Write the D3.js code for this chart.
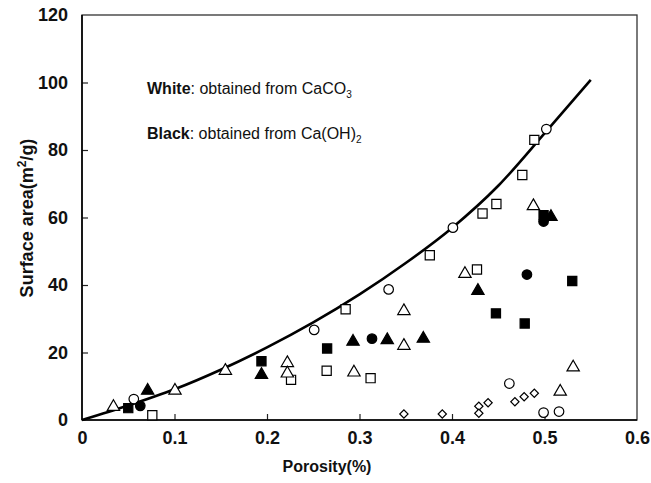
<!DOCTYPE html>
<html>
<head>
<meta charset="utf-8">
<script src="https://cdn.jsdelivr.net/npm/d3@7"></script>
<style>
  html, body { margin: 0; padding: 0; background: #fff; }
  svg { display: block; }
  text { font-family: Arial, "Liberation Sans", Helvetica, sans-serif; }
</style>
</head>
<body>
<svg id="chart" width="651" height="483"></svg>
<script>
// Axis tick labels
const xTicks = [0, 0.1, 0.2, 0.3, 0.4, 0.5, 0.6];
const yTicks = [0, 20, 40, 60, 80, 100, 120];

// White markers: samples obtained from CaCO3  [porosity, surface area]
const openCircle = [
  [0.056, 6.2], [0.251, 26.7], [0.3315, 38.7], [0.401, 57.0], [0.502, 86.2],
  [0.462, 10.8], [0.499, 2.2], [0.5157, 2.5]
];
const openSquare = [
  [0.076, 1.4], [0.226, 11.9], [0.2645, 14.6], [0.285, 32.8], [0.312, 12.4],
  [0.376, 48.8], [0.427, 44.6], [0.433, 61.2], [0.448, 64.0], [0.476, 72.6],
  [0.489, 83.0]
];
const openTriangle = [
  [0.034, 3.9], [0.1005, 8.7], [0.155, 14.6], [0.222, 16.9], [0.222, 13.8],
  [0.294, 14.1], [0.348, 32.3], [0.348, 22.0], [0.414, 43.3], [0.488, 63.4],
  [0.517, 8.4], [0.531, 15.6]
];
const openDiamond = [
  [0.348, 1.8], [0.3895, 1.8], [0.429, 4.1], [0.429, 2.0], [0.439, 5.1],
  [0.468, 5.4], [0.478, 6.9], [0.489, 7.9]
];

// Black markers: samples obtained from Ca(OH)2
const filledSquare = [
  [0.050, 3.5], [0.194, 17.4], [0.265, 21.2], [0.4475, 31.6], [0.4786, 28.6],
  [0.499, 60.7], [0.530, 41.2]
];
const filledCircle = [
  [0.063, 4.2], [0.3135, 24.1], [0.481, 43.1], [0.499, 58.8]
];
const filledTriangle = [
  [0.071, 8.7], [0.194, 13.4], [0.293, 23.2], [0.330, 23.7], [0.369, 24.1],
  [0.428, 38.3], [0.507, 60.2]
];

// Fitted curve
const curvePorosity = [0, 0.05, 0.10, 0.15, 0.20, 0.25, 0.30, 0.35, 0.40, 0.45, 0.50, 0.55];
const curveArea     = [0, 4.3, 9.1, 14.9, 21.5, 28.9, 37.2, 46.5, 56.9, 69.4, 84.9, 100.8];

const svg = d3.select("#chart");
const W = 651, H = 483;
const margin = { left: 82, top: 15, right: 14, bottom: 63 };
const iw = W - margin.left - margin.right;
const ih = H - margin.top - margin.bottom;

const x = d3.scaleLinear().domain([0, 0.6]).range([0, iw]);
const y = d3.scaleLinear().domain([0, 120]).range([ih, 0]);

const g = svg.append("g").attr("transform", `translate(${margin.left},${margin.top})`);

// frame
g.append("rect").attr("x", 0).attr("y", 0).attr("width", iw).attr("height", ih)
  .attr("fill", "none").attr("stroke", "#333").attr("stroke-width", 1.3);

// x ticks (inward)
const xAxisTicks = g.append("g").attr("transform", `translate(0,${ih})`)
  .call(d3.axisTop(x).tickValues(xTicks.slice(1, -1)).tickSize(6).tickFormat(""));
xAxisTicks.select(".domain").remove();
xAxisTicks.selectAll("line").attr("stroke", "#222").attr("stroke-width", 1.2);

// x tick labels
const xAxisLab = g.append("g").attr("transform", `translate(0,${ih + 8})`)
  .call(d3.axisBottom(x).tickValues(xTicks).tickSize(0).tickFormat(d => d === 0 ? "0" : d3.format(".1f")(d)));
xAxisLab.select(".domain").remove();
xAxisLab.selectAll("text").attr("font-size", 18).attr("font-weight", "bold").attr("fill", "#111")
  .attr("font-family", "Arial, 'Liberation Sans', sans-serif");

// y axis
const yAxis = g.append("g")
  .call(d3.axisRight(y).tickValues(yTicks.slice(1, -1)).tickSize(6).tickFormat(""));
yAxis.select(".domain").remove();
yAxis.selectAll("line").attr("stroke", "#222").attr("stroke-width", 1.2);

const yAxisLab = g.append("g").attr("transform", "translate(-11,0)")
  .call(d3.axisLeft(y).tickValues(yTicks).tickSize(0));
yAxisLab.select(".domain").remove();
yAxisLab.selectAll("text").attr("font-size", 18).attr("font-weight", "bold").attr("fill", "#111")
  .attr("font-family", "Arial, 'Liberation Sans', sans-serif");

// left & bottom axis lines a bit darker
g.append("line").attr("x1", 0).attr("x2", 0).attr("y1", 0).attr("y2", ih)
  .attr("stroke", "#000").attr("stroke-width", 1.6);
g.append("line").attr("x1", 0).attr("x2", iw).attr("y1", ih).attr("y2", ih)
  .attr("stroke", "#000").attr("stroke-width", 1.6);

// axis titles
svg.append("text").attr("x", 327).attr("y", 472)
  .attr("text-anchor", "middle").attr("font-size", 16).attr("font-weight", "bold")
  .attr("fill", "#111").text("Porosity(%)");

const yt = svg.append("text")
  .attr("transform", `translate(33,218) rotate(-90)`)
  .attr("text-anchor", "middle").attr("font-size", 18).attr("font-weight", "bold").attr("fill", "#111");
yt.append("tspan").text("Surface area(m");
yt.append("tspan").attr("dy", -7).attr("font-size", 12).text("2");
yt.append("tspan").attr("dy", 7).text("/g)");

// curve
const line = d3.line().x(d => x(d[0])).y(d => y(d[1])).curve(d3.curveMonotoneX);
g.append("path").datum(curvePorosity.map((p, i) => [p, curveArea[i]]))
  .attr("d", line).attr("fill", "none").attr("stroke", "#000").attr("stroke-width", 2.6);

// markers
const sym = {
  circle: d3.symbol().type(d3.symbolCircle).size(72),
  square: d3.symbol().type(d3.symbolSquare).size(84),
  triangle: d3.symbol().type(d3.symbolTriangle).size(66),
  diamond: d3.symbol().type(d3.symbolSquare).size(34)
};
function drawSet(data, shape, filled) {
  const rot = shape === "diamond" ? " rotate(45)" : "";
  g.append("g").selectAll("path").data(data).join("path")
    .attr("transform", d => `translate(${x(d[0])},${y(d[1])})${rot}`)
    .attr("d", sym[shape])
    .attr("fill", filled ? "#000" : "#fff")
    .attr("stroke", "#000").attr("stroke-width", 1.2);
}
drawSet(openDiamond, "diamond", false);
drawSet(openSquare, "square", false);
drawSet(openTriangle, "triangle", false);
drawSet(openCircle, "circle", false);
drawSet(filledSquare, "square", true);
drawSet(filledCircle, "circle", true);
drawSet(filledTriangle, "triangle", true);

// notes
function note(yy, bold, rest, sub) {
  const t = svg.append("text").attr("x", 147).attr("y", yy).attr("font-size", 16).attr("fill", "#111");
  t.append("tspan").attr("font-weight", "bold").text(bold);
  t.append("tspan").text(rest);
  t.append("tspan").attr("dy", 4).attr("font-size", 10).text(sub);
}
note(94, "White", ": obtained from CaCO", "3");
note(139, "Black", ": obtained from Ca(OH)", "2");
</script>
</body>
</html>
